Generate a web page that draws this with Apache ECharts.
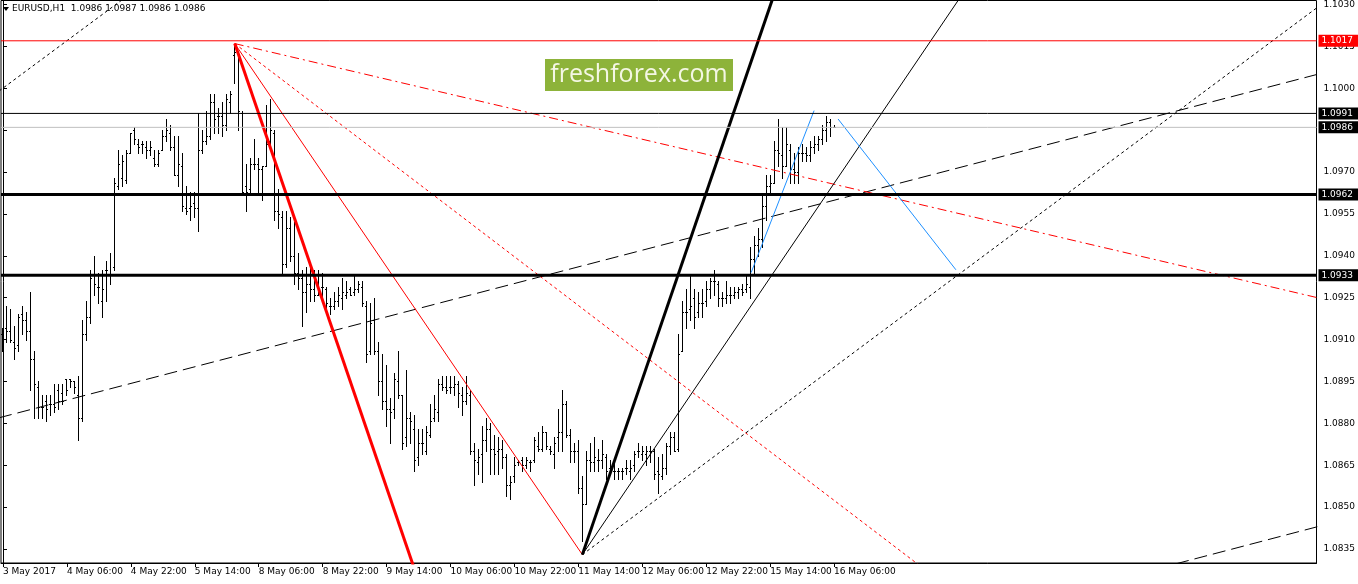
<!DOCTYPE html>
<html><head><meta charset="utf-8">
<script src="https://cdn.jsdelivr.net/npm/echarts@6/dist/echarts.min.js"></script>
<style>html,body{margin:0;padding:0;background:#fff}#c{width:1358px;height:584px}</style>
</head><body><div id="c"></div>
<script>
// x tick labels (every 16 hourly bars)
const xLabels = ['3 May 2017','4 May 06:00','4 May 22:00','5 May 14:00','8 May 06:00','8 May 22:00','9 May 14:00','10 May 06:00','10 May 22:00','11 May 14:00','12 May 06:00','12 May 22:00','15 May 14:00','16 May 06:00'];
const xTickIdx = [0,16,32,48,64,80,96,112,128,144,160,176,192,208];
const yTicks = [1.0835,1.0850,1.0865,1.0880,1.0895,1.0910,1.0925,1.0940,1.0955,1.0970,1.0985,1.1000,1.1015,1.1030];

// EURUSD H1 bars: [open, high, low, close]
const bars = [
[1.0912,1.0914,1.0906,1.0910],[1.0914,1.0922,1.0909,1.0913],[1.0913,1.0921,1.0909,1.0910],[1.0909,1.0915,1.0903,1.0907],
[1.0908,1.0919,1.0906,1.0918],[1.0919,1.0922,1.0912,1.0917],[1.0917,1.0920,1.0910,1.0913],[1.0913,1.0927,1.0892,1.0903],
[1.0903,1.0906,1.0882,1.0894],[1.0893,1.0895,1.0882,1.0886],[1.0886,1.0890,1.0882,1.0886],[1.0888,1.0890,1.0881,1.0885],
[1.0887,1.0890,1.0883,1.0887],[1.0887,1.0894,1.0884,1.0886],[1.0892,1.0894,1.0885,1.0888],[1.0891,1.0894,1.0887,1.0888],
[1.0896,1.0896,1.0890,1.0892],[1.0896,1.0896,1.0893,1.0895],[1.0895,1.0895,1.0891,1.0893],[1.0890,1.0897,1.0874,1.0882],
[1.0882,1.0917,1.0881,1.0912],[1.0912,1.0924,1.0910,1.0918],[1.0918,1.0935,1.0916,1.0932],[1.0933,1.0940,1.0926,1.0930],
[1.0929,1.0934,1.0923,1.0929],[1.0924,1.0935,1.0918,1.0928],[1.0935,1.0938,1.0924,1.0935],[1.0933,1.0941,1.0930,1.0933],
[1.0936,1.0968,1.0935,1.0966],[1.0965,1.0978,1.0964,1.0973],[1.0968,1.0976,1.0965,1.0974],[1.0967,1.0978,1.0966,1.0977],
[1.0977,1.0984,1.0977,1.0984],[1.0985,1.0986,1.0980,1.0982],[1.0980,1.0982,1.0977,1.0979],[1.0980,1.0981,1.0977,1.0980],
[1.0979,1.0981,1.0975,1.0978],[1.0978,1.0981,1.0976,1.0979],[1.0975,1.0978,1.0972,1.0973],[1.0973,1.0978,1.0972,1.0977],
[1.0978,1.0985,1.0978,1.0983],[1.0983,1.0989,1.0981,1.0985],[1.0984,1.0987,1.0978,1.0979],[1.0979,1.0983,1.0969,1.0969],
[1.0969,1.0983,1.0965,1.0973],[1.0972,1.0977,1.0956,1.0958],[1.0957,1.0965,1.0955,1.0956],[1.0957,1.0963,1.0953,1.0958],
[1.0959,1.0963,1.0954,1.0957],[1.0957,1.0991,1.0949,1.0978],[1.0978,1.0985,1.0977,1.0981],[1.0981,1.0992,1.0980,1.0983],
[1.0983,1.0998,1.0982,1.0995],[1.0995,1.0998,1.0984,1.0989],[1.0990,1.0993,1.0984,1.0990],[1.0990,1.0995,1.0983,1.0987],
[1.0987,1.0998,1.0985,1.0996],[1.0995,1.0999,1.0991,1.0998],[1.1012,1.1016,1.1002,1.1013],[1.1013,1.1013,1.0985,1.0992],
[1.0991,1.0992,1.0963,1.0963],[1.0965,1.0973,1.0956,1.0963],[1.0964,1.0975,1.0963,1.0973],[1.0973,1.0982,1.0971,1.0973],
[1.0973,1.0975,1.0963,1.0971],[1.0971,1.0972,1.0960,1.0972],[1.0972,1.0994,1.0972,1.0980],[1.0981,1.0996,1.0980,1.0985],
[1.0984,1.0985,1.0953,1.0956],[1.0956,1.0964,1.0950,1.0955],[1.0954,1.0956,1.0934,1.0937],[1.0937,1.0956,1.0936,1.0950],
[1.0950,1.0954,1.0938,1.0940],[1.0940,1.0952,1.0930,1.0934],[1.0934,1.0941,1.0928,1.0932],[1.0932,1.0935,1.0915,1.0927],
[1.0927,1.0936,1.0920,1.0930],[1.0930,1.0936,1.0924,1.0928],[1.0928,1.0935,1.0924,1.0926],[1.0926,1.0935,1.0926,1.0928],
[1.0929,1.0934,1.0925,1.0929],[1.0928,1.0929,1.0920,1.0923],[1.0922,1.0925,1.0919,1.0922],[1.0922,1.0927,1.0921,1.0924],
[1.0924,1.0929,1.0922,1.0926],[1.0925,1.0932,1.0921,1.0927],[1.0926,1.0931,1.0925,1.0927],[1.0928,1.0929,1.0926,1.0926],
[1.0927,1.0933,1.0926,1.0928],[1.0928,1.0931,1.0927,1.0930],[1.0929,1.0931,1.0922,1.0923],[1.0922,1.0924,1.0902,1.0905],
[1.0906,1.0923,1.0905,1.0916],[1.0917,1.0925,1.0905,1.0906],[1.0906,1.0909,1.0890,1.0895],[1.0895,1.0905,1.0885,1.0888],
[1.0888,1.0901,1.0879,1.0885],[1.0885,1.0889,1.0873,1.0884],[1.0885,1.0898,1.0882,1.0896],[1.0895,1.0906,1.0889,1.0890],
[1.0890,1.0890,1.0871,1.0873],[1.0875,1.0899,1.0872,1.0882],[1.0882,1.0884,1.0873,1.0881],[1.0878,1.0883,1.0863,1.0867],
[1.0868,1.0878,1.0865,1.0873],[1.0873,1.0878,1.0869,1.0873],[1.0870,1.0879,1.0869,1.0877],[1.0876,1.0887,1.0875,1.0881],
[1.0882,1.0890,1.0881,1.0885],[1.0884,1.0896,1.0881,1.0894],[1.0894,1.0897,1.0892,1.0893],[1.0893,1.0897,1.0891,1.0892],
[1.0893,1.0897,1.0891,1.0893],[1.0893,1.0897,1.0890,1.0894],[1.0894,1.0895,1.0886,1.0891],[1.0890,1.0893,1.0883,1.0888],
[1.0888,1.0897,1.0887,1.0891],[1.0890,1.0892,1.0869,1.0870],[1.0870,1.0873,1.0858,1.0867],[1.0866,1.0871,1.0862,1.0868],
[1.0869,1.0879,1.0859,1.0874],[1.0874,1.0882,1.0870,1.0878],[1.0878,1.0880,1.0862,1.0871],[1.0871,1.0876,1.0862,1.0869],
[1.0870,1.0875,1.0862,1.0871],[1.0871,1.0874,1.0864,1.0868],[1.0868,1.0869,1.0854,1.0858],[1.0858,1.0861,1.0853,1.0859],
[1.0861,1.0868,1.0859,1.0865],[1.0866,1.0867,1.0865,1.0866],[1.0867,1.0868,1.0863,1.0865],[1.0865,1.0868,1.0864,1.0867],
[1.0866,1.0867,1.0863,1.0866],[1.0867,1.0875,1.0866,1.0874],[1.0872,1.0877,1.0870,1.0871],[1.0871,1.0879,1.0870,1.0877],
[1.0877,1.0877,1.0871,1.0872],[1.0871,1.0872,1.0869,1.0870],[1.0869,1.0875,1.0864,1.0873],[1.0875,1.0885,1.0870,1.0877],
[1.0877,1.0892,1.0870,1.0887],[1.0887,1.0888,1.0875,1.0876],[1.0876,1.0878,1.0866,1.0870],[1.0870,1.0873,1.0866,1.0870],
[1.0870,1.0874,1.0855,1.0857],[1.0857,1.0861,1.0838,1.0851],[1.0851,1.0870,1.0851,1.0867],[1.0867,1.0873,1.0863,1.0866],
[1.0866,1.0875,1.0863,1.0868],[1.0867,1.0871,1.0863,1.0867],[1.0867,1.0874,1.0864,1.0869],[1.0868,1.0869,1.0860,1.0863],
[1.0864,1.0867,1.0862,1.0863],[1.0863,1.0866,1.0860,1.0863],[1.0863,1.0864,1.0860,1.0863],[1.0863,1.0864,1.0860,1.0863],
[1.0864,1.0867,1.0862,1.0864],[1.0863,1.0867,1.0860,1.0864],[1.0865,1.0870,1.0863,1.0869],[1.0870,1.0873,1.0868,1.0870],
[1.0869,1.0872,1.0867,1.0870],[1.0869,1.0872,1.0865,1.0870],[1.0870,1.0872,1.0866,1.0870],[1.0870,1.0871,1.0860,1.0862],
[1.0863,1.0868,1.0855,1.0862],[1.0861,1.0869,1.0860,1.0864],[1.0864,1.0873,1.0862,1.0872],[1.0872,1.0877,1.0869,1.0875],
[1.0875,1.0877,1.0870,1.0870],[1.0871,1.0912,1.0870,1.0905],[1.0906,1.0924,1.0906,1.0920],[1.0920,1.0928,1.0914,1.0920],
[1.0921,1.0933,1.0917,1.0922],[1.0925,1.0928,1.0914,1.0918],[1.0920,1.0927,1.0918,1.0923],[1.0923,1.0928,1.0918,1.0923],
[1.0924,1.0931,1.0922,1.0928],[1.0928,1.0932,1.0925,1.0931],[1.0931,1.0935,1.0926,1.0931],[1.0930,1.0931,1.0922,1.0925],
[1.0925,1.0927,1.0922,1.0925],[1.0925,1.0931,1.0923,1.0926],[1.0926,1.0929,1.0923,1.0926],[1.0926,1.0929,1.0925,1.0927],
[1.0927,1.0929,1.0925,1.0928],[1.0928,1.0930,1.0926,1.0927],[1.0928,1.0933,1.0927,1.0930],[1.0929,1.0943,1.0925,1.0939],
[1.0939,1.0947,1.0934,1.0944],[1.0944,1.0950,1.0940,1.0946],[1.0946,1.0962,1.0943,1.0958],[1.0958,1.0969,1.0953,1.0965],
[1.0965,1.0969,1.0963,1.0966],[1.0966,1.0981,1.0966,1.0978],[1.0978,1.0989,1.0972,1.0977],[1.0976,1.0986,1.0968,1.0972],
[1.0972,1.0986,1.0972,1.0980],[1.0978,1.0980,1.0966,1.0971],[1.0971,1.0977,1.0966,1.0970],[1.0970,1.0979,1.0966,1.0977],
[1.0977,1.0980,1.0974,1.0977],[1.0977,1.0979,1.0974,1.0976],[1.0976,1.0981,1.0974,1.0979],[1.0979,1.0983,1.0977,1.0980],
[1.0980,1.0983,1.0978,1.0982],[1.0982,1.0987,1.0980,1.0985],[1.0985,1.0990,1.0981,1.0988],[1.0988,1.0989,1.0983,1.0986],
[1.0986,1.0987,1.0986,1.0986]
];

// horizontal levels
const levels = [1.1017, 1.0991, 1.0986, 1.0962, 1.0933];

// trend line anchors: [bar index, price]
const redThick    = [[58, 1.1016], [107, 1.0811]];
const redThin     = [[58, 1.1016], [145, 1.0833]];
const redDotted   = [[58, 1.1016], [235, 1.0823]];
const redDashDot  = [[58, 1.1016], [329, 1.0925]];
const blackThick  = [[145, 1.0833], [195, 1.1042]];
const blackThin   = [[145, 1.0833], [245, 1.1044]];
const blackDotted = [[145, 1.0833], [329, 1.1029]];
const blackDotted2= [[-1, 1.0999], [32, 1.1034]];
const blackDash   = [[-1, 1.0882], [329, 1.1005]];
const blackDash2  = [[289, 1.0828], [329, 1.0843]];
const blueUp      = [[187.25, 1.0934], [203, 1.0992]];
const blueDown    = [[209, 1.0989], [238.5, 1.0935]];

const X_MIN = -0.5, X_MAX = 328.75;
const FONT = "'DejaVu Sans', sans-serif";
const f4 = v => Number(v).toFixed(4);

const levelStyle = [
  {color:'#ff0000', width:1, bg:'#ff0000'},
  {color:'#000000', width:1, bg:'#000000'},
  {color:'#c0c0c0', width:1, bg:'#000000'},
  {color:'#000000', width:3, bg:'#000000'},
  {color:'#000000', width:3, bg:'#000000'}
];

function trend(data, color, width, type) {
  return {type:'line', data:data, symbol:'none', showSymbol:false, silent:true, animation:false,
    clip:true, z:5, color:color, lineStyle:{color:color, width:width, type:type}};
}

function levelSeries(v, i) {
  const s = levelStyle[i];
  return {type:'line', data:[[X_MIN, v],[X_MAX, v]], symbol:'none', showSymbol:false, silent:true, animation:false,
    clip:true, z:6, color:s.color, lineStyle:{color:s.color, width:s.width, type:'solid'},
    markLine:{silent:true, symbol:['none','none'], animation:false, precision:4,
      lineStyle:{color:'rgba(0,0,0,0)', width:1},
      label:{show:true, position:'end', distance:2, formatter:p=>f4(p.value), color:'#fff',
        backgroundColor:s.bg, padding:[2,6,1,3], fontSize:9, fontFamily:FONT},
      data:[{yAxis:v}]}};
}

const chart = echarts.init(document.getElementById('c'), null, {renderer:'canvas'});
const last = bars[bars.length-1];

chart.setOption({
  animation:false,
  backgroundColor:'#fff',
  grid:{left:1, top:0, width:1317, height:563, show:true, borderColor:'#000', borderWidth:1, backgroundColor:'#fff'},
  xAxis:{type:'value', min:X_MIN, max:X_MAX, splitLine:{show:false},
    axisLine:{show:true, onZero:false, lineStyle:{color:'#000', width:1}},
    axisTick:{show:true, customValues:xTickIdx, length:4, lineStyle:{color:'#000'}},
    axisLabel:{customValues:xTickIdx, formatter:v => xLabels[xTickIdx.indexOf(v)], align:'left', margin:4,
      color:'#000', fontSize:9, fontFamily:FONT}},
  yAxis:{type:'value', position:'right', min:1.0830, max:1.103143, scale:true, splitLine:{show:false},
    axisLine:{show:true, lineStyle:{color:'#000', width:1}},
    axisTick:{show:true, customValues:yTicks, length:4, lineStyle:{color:'#000'}},
    axisLabel:{customValues:yTicks, formatter:v => f4(v), margin:7, color:'#000', fontSize:9, fontFamily:FONT}},
  series:[
    {type:'custom', silent:true, animation:false, clip:true, z:3,
      data: bars.map((b,i)=>[i,b[0],b[1],b[2],b[3]]),
      encode:{x:0, y:[1,2,3,4]},
      renderItem:function(params, api){
        const x = api.value(0);
        const o = api.coord([x, api.value(1)]);
        const h = api.coord([x, api.value(2)]);
        const l = api.coord([x, api.value(3)]);
        const c = api.coord([x, api.value(4)]);
        const cx = Math.floor(o[0]);
        const yh = Math.round(h[1]), yl = Math.round(l[1]);
        return {type:'group', children:[
          {type:'rect', shape:{x:cx, y:yh, width:1, height:Math.max(1, yl-yh+1)}, style:{fill:'#000'}},
          {type:'rect', shape:{x:cx-1, y:Math.round(o[1]), width:1, height:1}, style:{fill:'#000'}},
          {type:'rect', shape:{x:cx+1, y:Math.round(c[1]), width:1, height:1}, style:{fill:'#000'}}
        ]};
      }
    },
    ...levels.map(levelSeries),
    trend(blackDash, '#000', 1, [13,6]),
    trend(blackDash2, '#000', 1, [13,6]),
    trend(blackDotted, '#000', 1, [3,3]),
    trend(blackDotted2, '#000', 1, [3,3]),
    trend(redDashDot, '#ff0000', 1, [9,4,2,4]),
    trend(redDotted, '#ff0000', 1, [3,3]),
    trend(redThin, '#ff0000', 1, 'solid'),
    trend(redThick, '#ff0000', 3, 'solid'),
    trend(blackThin, '#000', 1, 'solid'),
    trend(blackThick, '#000', 3, 'solid'),
    trend(blueUp, '#1e90ff', 1, 'solid'),
    trend(blueDown, '#1e90ff', 1, 'solid')
  ],
  graphic:[
    {type:'polygon', z:100, shape:{points:[[3,7],[9,7],[6,11]]}, style:{fill:'#000'}},
    {type:'text', z:100, left:12, top:4, style:{text:'EURUSD,H1  '+[last[0],last[1],last[2],last[3]].map(f4).join(' '),
      fill:'#000', fontSize:9, fontFamily:FONT}},
    {type:'rect', z:100, shape:{x:545, y:59, width:188, height:32}, style:{fill:'#8db33a'}},
    {type:'text', z:101, x:639, y:75, style:{text:'freshforex.com', fill:'#f4f7e4', fontSize:25,
      fontFamily:"'Open Sans', sans-serif", align:'center', verticalAlign:'middle'}}
  ]
});
</script></body></html>
